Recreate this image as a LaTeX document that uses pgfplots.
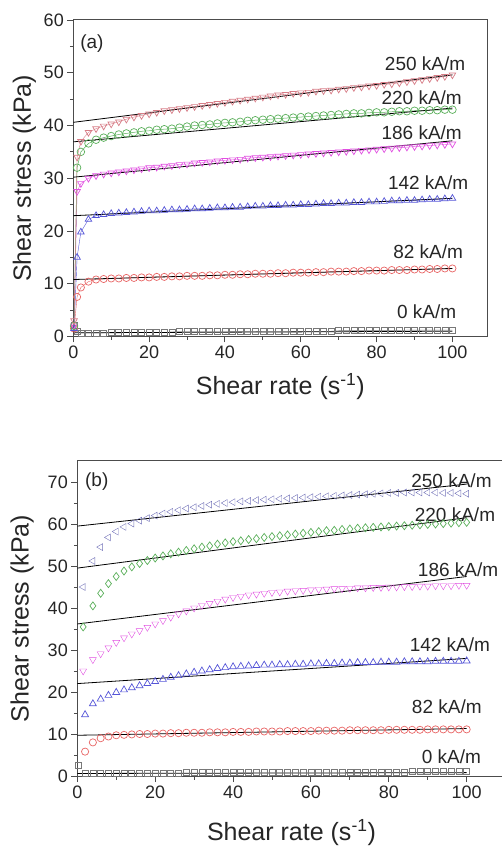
\documentclass[border=0pt]{standalone}
\usepackage{fontspec}
\setmainfont{Liberation Sans}
\usepackage{pgfplots}
\usepackage{pgfplotstable}
\pgfplotsset{compat=1.18}

\definecolor{cRed}{RGB}{232,100,100}
\definecolor{cGreen}{RGB}{90,175,90}
\definecolor{cMag}{RGB}{225,80,225}
\definecolor{cBlue}{RGB}{85,85,215}
\definecolor{cPink}{RGB}{215,125,135}
\definecolor{cSlate}{RGB}{115,115,185}
\definecolor{cGray}{RGB}{120,120,120}

% (a) shear stress (kPa) against shear rate (1/s), one column per field strength
\pgfplotstableread{
x    s0  s82  s142 s186 s220 s250
0.2  2.2 1.5  1.5  2.0  2.0  3.0
1    1.0 7.5  15.0 27.5 32.0 34.0
2    0.7 9.3  19.8 29.0 35.0 37.0
4    0.7 10.4 22.2 30.0 36.6 38.7
6    0.7 10.8 22.9 30.5 37.3 39.4
8    0.7 10.9 23.1 30.8 37.7 39.9
10   0.8 11.0 23.3 31.0 38.0 40.3
12   0.8 11.0 23.4 31.2 38.3 40.7
14   0.8 11.1 23.5 31.4 38.5 41.2
16   0.8 11.1 23.6 31.6 38.7 41.6
18   0.8 11.2 23.7 31.8 38.9 41.9
20   0.8 11.2 23.8 32.0 39.0 42.2
22   0.8 11.3 23.8 32.1 39.2 42.5
24   0.8 11.3 23.9 32.3 39.3 42.8
26   0.8 11.4 24.0 32.4 39.4 43.0
28   0.9 11.4 24.0 32.6 39.6 43.2
30   0.9 11.5 24.1 32.7 39.8 43.4
32   0.9 11.5 24.2 32.9 40.0 43.6
34   0.9 11.5 24.2 33.0 40.1 43.8
36   0.9 11.6 24.3 33.1 40.2 44.0
38   0.9 11.6 24.4 33.3 40.4 44.2
40   0.9 11.7 24.4 33.4 40.5 44.4
42   0.9 11.7 24.5 33.5 40.6 44.6
44   0.9 11.8 24.5 33.6 40.7 44.8
46   0.9 11.8 24.6 33.8 40.9 45.0
48   0.9 11.9 24.7 33.9 41.0 45.2
50   1.0 11.9 24.7 34.0 41.1 45.4
52   1.0 11.9 24.8 34.1 41.2 45.6
54   1.0 12.0 24.8 34.2 41.3 45.8
56   1.0 12.0 24.9 34.3 41.4 45.9
58   1.0 12.1 24.9 34.4 41.5 46.1
60   1.0 12.1 25.0 34.5 41.6 46.2
62   1.0 12.1 25.0 34.6 41.7 46.3
64   1.0 12.2 25.1 34.7 41.8 46.5
66   1.0 12.2 25.2 34.8 41.9 46.6
68   1.0 12.3 25.2 34.9 42.0 46.7
70   1.1 12.3 25.3 35.0 42.1 46.9
72   1.1 12.3 25.3 35.1 42.2 47.0
74   1.1 12.4 25.4 35.2 42.3 47.2
76   1.1 12.4 25.4 35.3 42.3 47.3
78   1.1 12.5 25.5 35.4 42.4 47.5
80   1.1 12.5 25.5 35.5 42.5 47.6
82   1.1 12.5 25.6 35.6 42.5 47.8
84   1.1 12.6 25.7 35.7 42.6 47.9
86   1.1 12.6 25.7 35.8 42.7 48.1
88   1.2 12.6 25.8 35.9 42.7 48.3
90   1.2 12.7 25.8 36.0 42.8 48.5
92   1.2 12.7 25.9 36.1 42.8 48.7
94   1.2 12.8 26.0 36.2 42.9 48.9
96   1.2 12.8 26.0 36.3 42.9 49.1
98   1.2 12.9 26.1 36.4 43.0 49.3
100  1.2 12.9 26.2 36.5 43.0 49.6
}\tableA

% (b) second fluid, same field strengths
\pgfplotstableread{
x    s0  s82  s142 s186 s220 s250
0.3  2.5 nan  nan  nan  nan  nan
1.5  nan nan  nan  25.0 35.5 45.0
2    0.7 5.8  14.6 nan  nan  nan
4    0.7 8.0  17.2 27.7 40.5 51.2
6    0.7 9.0  18.3 29.1 43.5 54.5
8    0.7 9.4  19.2 30.5 45.8 56.8
10   0.7 9.7  19.9 31.8 47.5 58.2
12   0.7 9.8  20.5 32.9 48.8 59.3
14   0.7 9.9  21.0 33.8 49.8 60.1
16   0.7 10.0 21.5 34.6 50.6 60.8
18   0.7 10.0 22.0 35.4 51.3 61.4
20   0.7 10.1 22.5 36.2 51.9 62.0
22   0.7 10.1 23.0 37.0 52.4 62.5
24   0.7 10.2 23.5 37.8 52.9 62.9
26   0.7 10.2 23.9 38.6 53.3 63.3
28   0.8 10.3 24.3 39.3 53.7 63.7
30   0.8 10.3 24.7 40.0 54.1 64.0
32   0.8 10.3 25.0 40.6 54.5 64.3
34   0.8 10.4 25.3 41.1 54.8 64.6
36   0.8 10.4 25.6 41.6 55.2 64.8
38   0.8 10.4 25.8 42.1 55.5 65.0
40   0.8 10.5 26.0 42.5 55.8 65.2
42   0.8 10.5 26.1 42.8 56.0 65.4
44   0.8 10.5 26.2 43.1 56.3 65.5
46   0.8 10.6 26.3 43.3 56.5 65.7
48   0.8 10.6 26.4 43.5 56.8 65.8
50   0.8 10.6 26.4 43.7 57.0 65.9
52   0.8 10.6 26.5 43.8 57.2 66.0
54   0.8 10.7 26.5 44.0 57.4 66.1
56   0.8 10.7 26.6 44.1 57.6 66.2
58   0.8 10.7 26.6 44.2 57.8 66.3
60   0.8 10.7 26.7 44.3 58.0 66.4
62   0.8 10.8 26.7 44.4 58.2 66.5
64   0.8 10.8 26.8 44.5 58.4 66.6
66   0.8 10.8 26.8 44.6 58.5 66.7
68   0.8 10.8 26.9 44.6 58.7 66.8
70   0.8 10.9 26.9 44.7 58.8 66.9
72   0.8 10.9 27.0 44.8 59.0 67.0
74   0.9 10.9 27.0 44.8 59.1 67.1
76   0.9 10.9 27.0 44.9 59.2 67.2
78   0.9 10.9 27.1 44.9 59.3 67.3
80   0.9 11.0 27.1 45.0 59.4 67.4
82   0.9 11.0 27.1 45.0 59.5 67.4
84   0.9 11.0 27.2 45.1 59.6 67.5
86   1.0 11.0 27.2 45.1 59.7 67.5
88   1.2 11.0 27.2 45.2 59.8 67.5
90   1.2 11.1 27.2 45.2 59.9 67.5
92   1.2 11.1 27.3 45.3 60.0 67.5
94   1.2 11.1 27.3 45.3 60.1 67.4
96   1.2 11.1 27.3 45.3 60.2 67.4
98   1.2 11.1 27.3 45.4 60.3 67.3
100  1.2 11.1 27.4 45.4 60.4 67.2
}\tableB

\pgfplotsset{
  panel/.style={
    scale only axis, anchor=south west,
    axis line style={line width=1pt, draw=black!70},
    tick style={line width=0.9pt, draw=black!70},
    tick align=outside, major tick length=6pt, minor tick length=3.5pt,
    xtick pos=left, ytick pos=left,
    minor x tick num=1, minor y tick num=1,
    xtick={0,20,...,100},
    tick label style={font=\fontsize{18}{21}\selectfont, text=black!85},
    /pgf/number format/assume math mode=true,
    xlabel={Shear rate (s\textsuperscript{-1})},
    ylabel={Shear stress (kPa)},
    every axis y label/.style={rotate=90, anchor=center,
      font=\fontsize{25}{30}\selectfont, text=black!85},
    every axis x label/.style={anchor=center,
      font=\fontsize{25}{30}\selectfont, text=black!85},
  },
  fit/.style={black, line width=0.8pt, no marks},
  dat/.style={only marks, mark size=3.6pt, mark options={line width=0.7pt, solid}},
}
\tikzset{lbl/.style={font=\fontsize{19}{22}\selectfont, text=black!85, anchor=center}}

\begin{document}
\begin{tikzpicture}
% ---------------- panel (a) ----------------
\begin{axis}[panel, at={(73.3pt,510.5pt)}, width=414pt, height=316.5pt,
  xmin=0, xmax=109.2, ymin=0, ymax=60, ytick={0,10,...,60},
  xlabel style={at={(axis description cs:0.5,-0.159)}},
  ylabel style={at={(axis description cs:-0.118,0.5)}}]
  \addplot[cGray, line width=0.4pt, mark=square, mark size=3pt, mark options={line width=0.6pt}] table[y=s0]{\tableA};
  \addplot[cRed, line width=0.4pt, mark=o, mark size=3.6pt, mark options={line width=0.7pt}] table[y=s82]{\tableA};
  \addplot[cBlue, line width=0.4pt, mark=triangle, mark size=3.8pt, mark options={line width=0.7pt}] table[y=s142]{\tableA};
  \addplot[cMag, line width=0.4pt, mark=triangle, mark size=3.8pt, mark options={line width=0.7pt, rotate=180}] table[y=s186]{\tableA};
  \addplot[cGreen, line width=0.5pt, mark=o, mark size=3.8pt, mark options={line width=0.7pt}] table[y=s220]{\tableA};
  \addplot[cPink, line width=0.4pt, mark=triangle, mark size=3.8pt, mark options={line width=0.7pt, rotate=180}] table[y=s250]{\tableA};
  % Bingham fits
  \addplot[fit] coordinates {(0,0.7) (100,1.0)};
  \addplot[fit] coordinates {(0,10.8) (100,12.9)};
  \addplot[fit] coordinates {(0,22.9) (100,26.2)};
  \addplot[fit] coordinates {(0,30.2) (100,37.1)};
  \addplot[fit] coordinates {(0,36.9) (100,43.3)};
  \addplot[fit] coordinates {(0,40.6) (100,49.6)};
  \node[lbl] at (axis cs:92.8,51.8) {250 kA/m};
  \node[lbl] at (axis cs:91.9,45.2) {220 kA/m};
  \node[lbl] at (axis cs:91.9,38.6) {186 kA/m};
  \node[lbl] at (axis cs:93.6,29.2) {142 kA/m};
  \node[lbl] at (axis cs:93.6,16.1) {82 kA/m};
  \node[lbl] at (axis cs:93.2,4.7) {0 kA/m};
  \node[lbl] at (axis cs:4.9,55.6) {(a)};
\end{axis}
% ---------------- panel (b) ----------------
\begin{axis}[panel, at={(77.3pt,71pt)}, width=428.3pt, height=315pt,
  xmin=0, xmax=110, ymin=0, ymax=75, ytick={0,10,...,70},
  xlabel style={at={(axis description cs:0.5,-0.181)}},
  ylabel style={at={(axis description cs:-0.129,0.5)}}]
  \addplot[cGray, dat, mark=square, mark size=3pt] table[y=s0]{\tableB};
  \addplot[cRed, dat, mark=o] table[y=s82]{\tableB};
  \addplot[cBlue, dat, mark=triangle, mark size=4pt] table[y=s142]{\tableB};
  \addplot[cMag, dat, mark=triangle, mark size=4pt, mark options={rotate=180}] table[y=s186]{\tableB};
  \addplot[cGreen, dat, mark=diamond, mark size=4pt] table[y=s220]{\tableB};
  \addplot[cSlate, dat, mark=triangle, mark size=4pt, mark options={rotate=90}] table[y=s250]{\tableB};
  % Bingham fits
  \addplot[fit] coordinates {(0,0.6) (100,0.8)};
  \addplot[fit] coordinates {(0,9.7) (100,11.3)};
  \addplot[fit] coordinates {(0,22.0) (100,28.0)};
  \addplot[fit] coordinates {(0,36.2) (100,47.5)};
  \addplot[fit] coordinates {(0,49.5) (100,61.5)};
  \addplot[fit] coordinates {(0,59.5) (100,69.5)};
  \node[lbl] at (axis cs:96.1,70.2) {250 kA/m};
  \node[lbl] at (axis cs:97.0,62.3) {220 kA/m};
  \node[lbl] at (axis cs:97.8,49.2) {186 kA/m};
  \node[lbl] at (axis cs:95.7,31.3) {142 kA/m};
  \node[lbl] at (axis cs:94.9,16.4) {82 kA/m};
  \node[lbl] at (axis cs:96.1,4.6) {0 kA/m};
  \node[lbl] at (axis cs:5.0,70.2) {(b)};
\end{axis}
\pgfresetboundingbox
\path[use as bounding box] (0,0) rectangle (502pt,847pt);
\end{tikzpicture}
\end{document}
